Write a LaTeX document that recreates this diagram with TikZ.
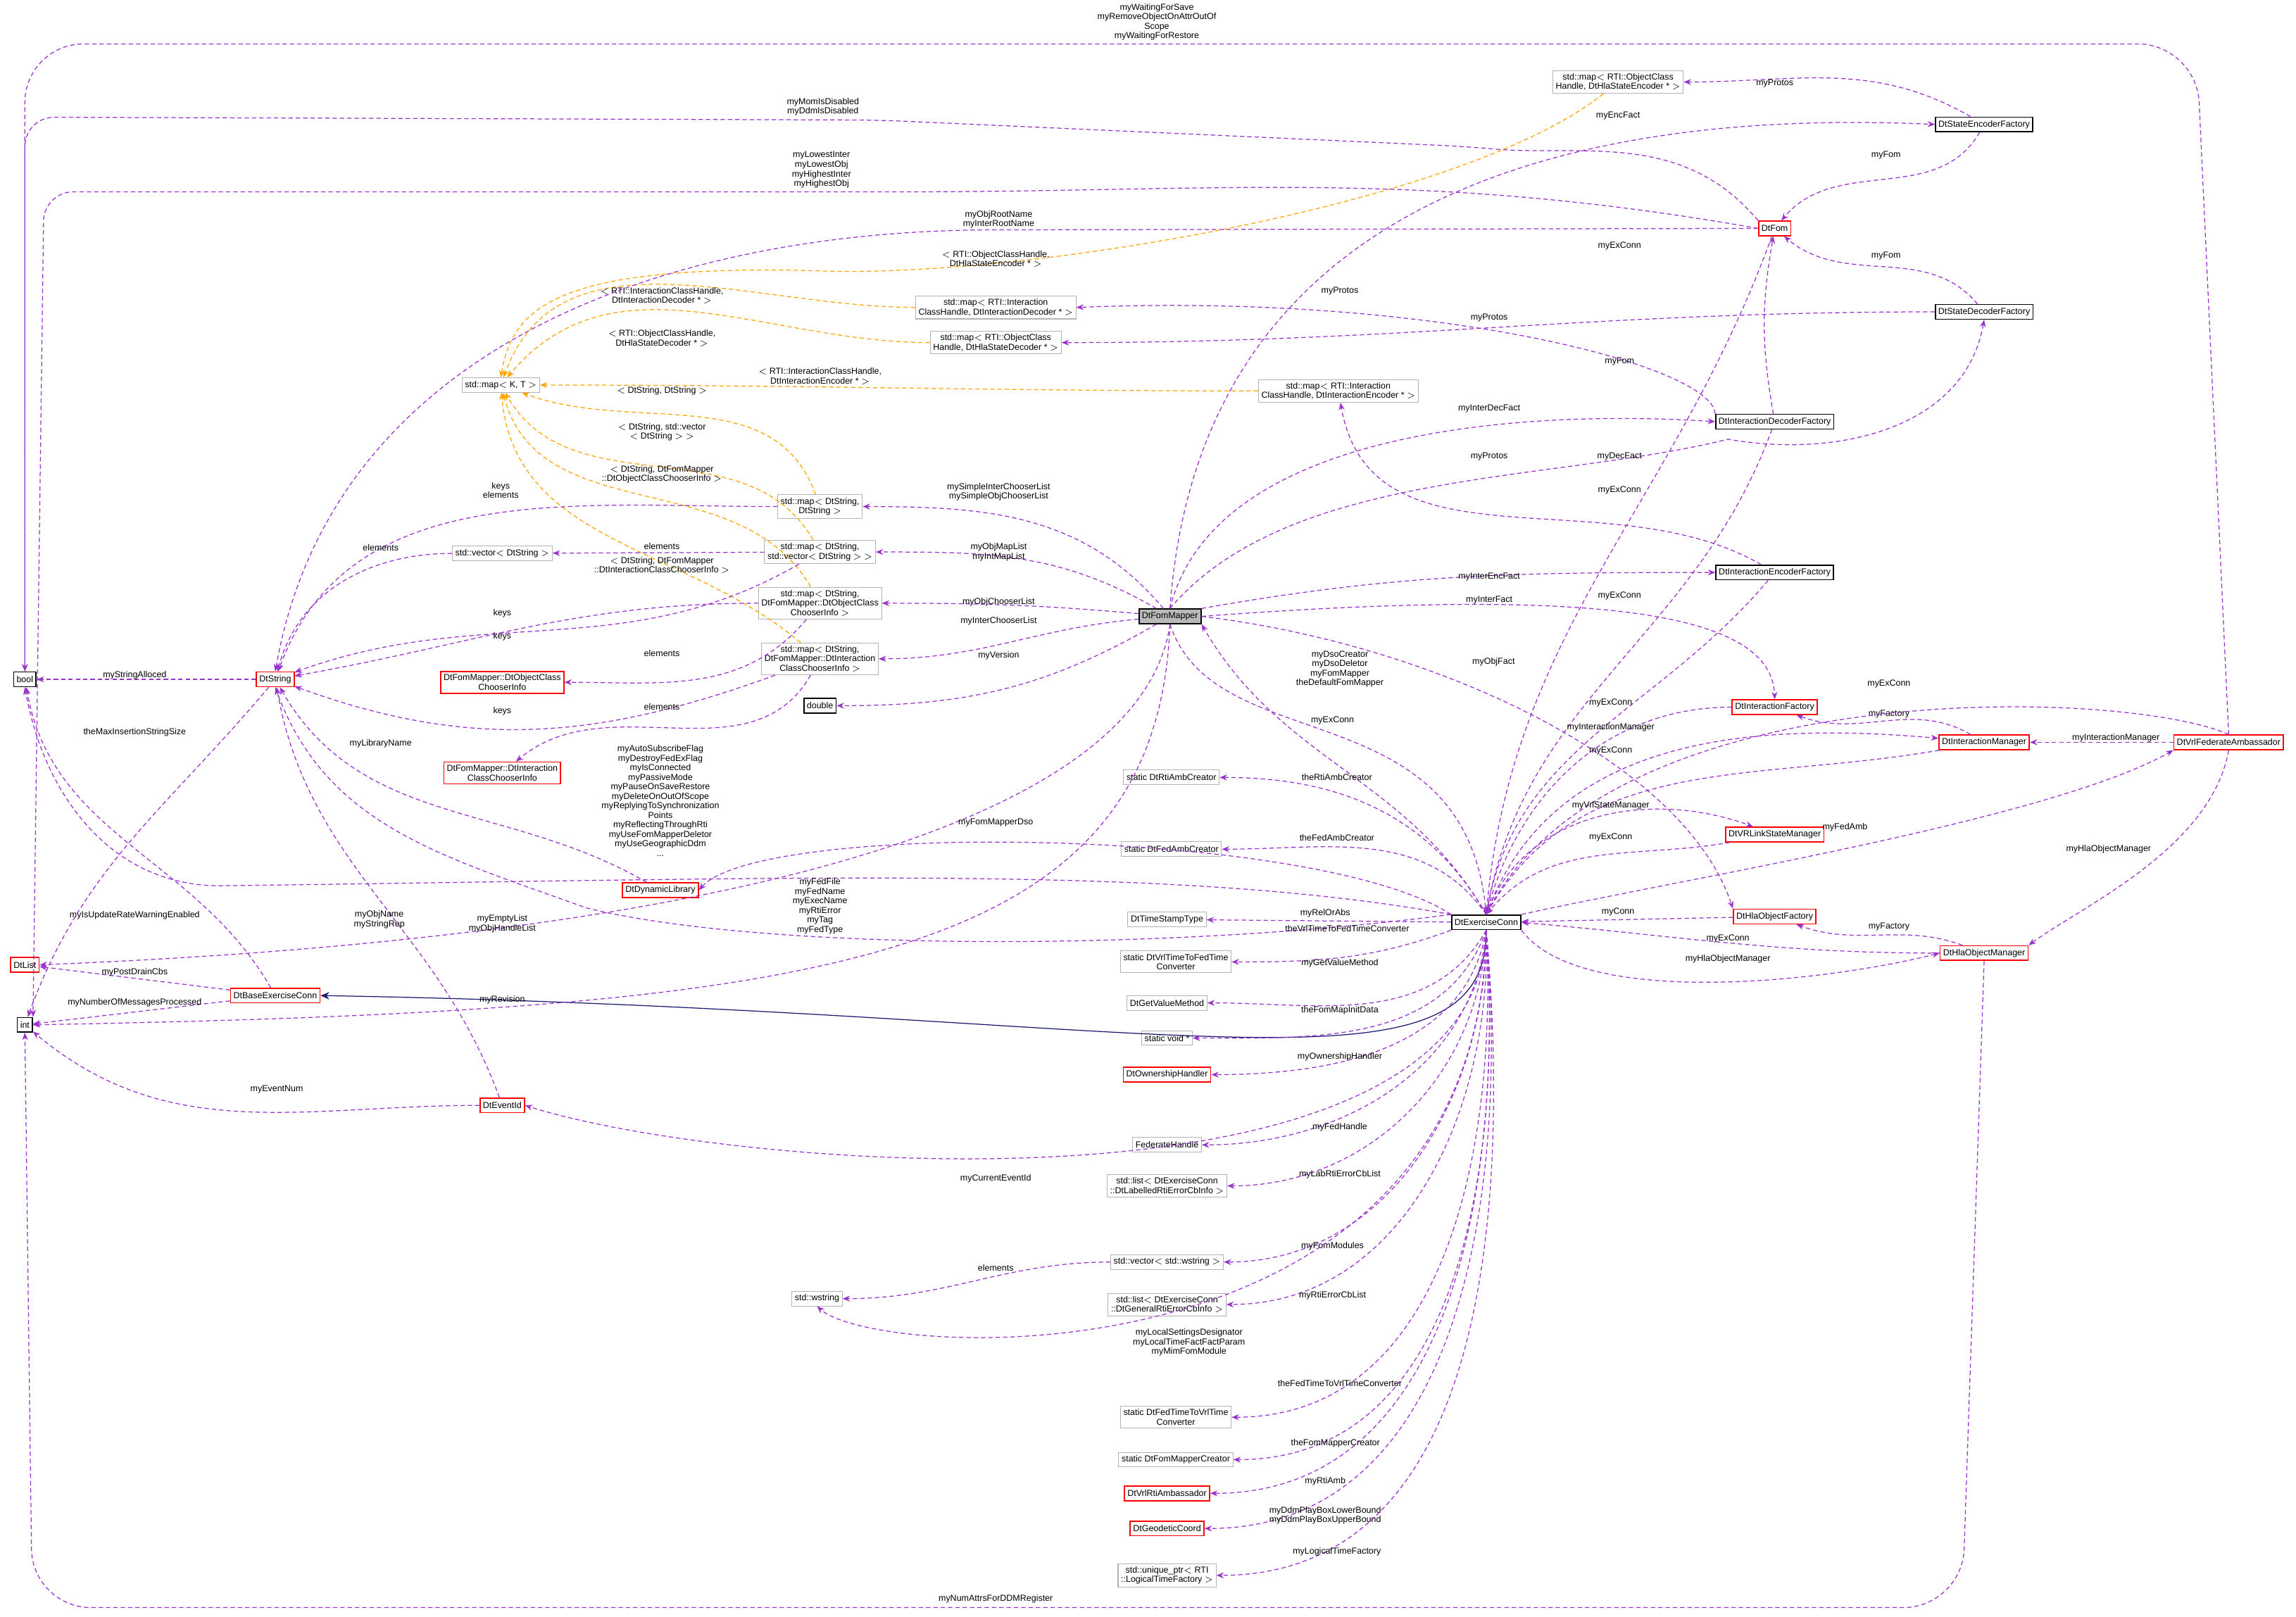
\documentclass[tikz,border=0pt]{standalone}
\usepackage{fontspec}
\setmainfont{Liberation Sans}
\usetikzlibrary{arrows.meta,positioning}
\definecolor{mem}{HTML}{9A32CD}
\definecolor{tpl}{HTML}{FFA500}
\definecolor{inh}{HTML}{191970}
\tikzset{
  cls/.style={draw=black,line width=0.8pt,rectangle,inner sep=2pt,minimum height=10pt,font=\fontsize{6}{6.5}\selectfont,fill=white,align=center},
  ext/.style={cls,draw=gray!60,line width=0.5pt},
  red/.style={cls,draw=red},
  lbl/.style={font=\fontsize{6}{6.5}\selectfont,align=center,inner sep=0pt},
  use/.style={mem,densely dashed,line width=0.6pt,-{Stealth[length=5pt,width=4pt]}},
  inst/.style={tpl,densely dashed,line width=0.6pt,-{Stealth[length=5pt,width=4pt]}},
  base/.style={inh,line width=0.6pt,-{Stealth[length=6pt,width=5pt,open,fill=inh]}}
}
\begin{document}
\begin{tikzpicture}[x=1pt,y=-1pt]
\useasboundingbox (0,0) rectangle (1568,1104);

% classes
\node (bool) at (17,464)[cls] {bool};
\node (int) at (17,700)[cls] {int};
\node (list) at (17,659)[red] {DtList};
\node (str) at (188,464)[red] {DtString};
\node (bec) at (188,680)[red] {DtBaseExerciseConn};
\node (evid) at (343,755)[red] {DtEventId};
\node (vstr) at (343,378)[ext] {std::vector$<$ DtString $>$};
\node (oci) at (343,466)[red] {DtFomMapper::DtObjectClass\\ChooserInfo};
\node (ici) at (343,528)[red] {DtFomMapper::DtInteraction\\ClassChooserInfo};
\node (dll) at (451,608)[red] {DtDynamicLibrary};
\node (mapkt) at (342,263)[ext] {std::map$<$ K, T $>$};
\node (mss) at (560,346)[ext] {std::map$<$ DtString,\\DtString $>$};
\node (msv) at (560,377)[ext] {std::map$<$ DtString,\\std::vector$<$ DtString $>$ $>$};
\node (mso) at (560,412)[ext] {std::map$<$ DtString,\\DtFomMapper::DtObjectClass\\ChooserInfo $>$};
\node (msi) at (560,450)[ext] {std::map$<$ DtString,\\DtFomMapper::DtInteraction\\ClassChooserInfo $>$};
\node (dbl) at (560,482)[cls] {double};
\node (fm) at (799,421)[cls,fill=gray!55] {DtFomMapper};
\node (menc) at (1105,56)[ext] {std::map$<$ RTI::ObjectClass\\Handle, DtHlaStateEncoder * $>$};
\node (midec) at (680,210)[ext] {std::map$<$ RTI::Interaction\\ClassHandle, DtInteractionDecoder * $>$};
\node (mdec) at (680,234)[ext] {std::map$<$ RTI::ObjectClass\\Handle, DtHlaStateDecoder * $>$};
\node (mienc) at (914,267)[ext] {std::map$<$ RTI::Interaction\\ClassHandle, DtInteractionEncoder * $>$};
\node (sef) at (1355,85)[cls] {DtStateEncoderFactory};
\node (fom) at (1212,156)[red] {DtFom};
\node (sdf) at (1355,213)[cls] {DtStateDecoderFactory};
\node (idf) at (1212,288)[cls] {DtInteractionDecoderFactory};
\node (ief) at (1212,391)[cls] {DtInteractionEncoderFactory};
\node (ifac) at (1212,483)[red] {DtInteractionFactory};
\node (imgr) at (1355,507)[red] {DtInteractionManager};
\node (vfa) at (1522,507)[red] {DtVrlFederateAmbassador};
\node (vsm) at (1212,570)[red] {DtVRLinkStateManager};
\node (hof) at (1212,626)[red] {DtHlaObjectFactory};
\node (hom) at (1355,651)[red] {DtHlaObjectManager};
\node (ec) at (1015,630)[cls] {DtExerciseConn};
\node (rac) at (800,531)[ext] {static DtRtiAmbCreator};
\node (fac) at (800,580)[ext] {static DtFedAmbCreator};
\node (tst) at (797,628)[ext] {DtTimeStampType};
\node (v2f) at (803,657)[ext] {static DtVrlTimeToFedTime\\Converter};
\node (gvm) at (797,685)[ext] {DtGetValueMethod};
\node (vptr) at (797,709)[ext] {static void *};
\node (own) at (797,734)[red] {DtOwnershipHandler};
\node (fh) at (797,782)[ext] {FederateHandle};
\node (llist) at (797,810)[ext] {std::list$<$ DtExerciseConn\\::DtLabelledRtiErrorCbInfo $>$};
\node (vws) at (797,862)[ext] {std::vector$<$ std::wstring $>$};
\node (ws) at (558,887)[ext] {std::wstring};
\node (glist) at (797,891)[ext] {std::list$<$ DtExerciseConn\\::DtGeneralRtiErrorCbInfo $>$};
\node (f2v) at (803,968)[ext] {static DtFedTimeToVrlTime\\Converter};
\node (fmc) at (803,997)[ext] {static DtFomMapperCreator};
\node (vra) at (797,1020)[red] {DtVrlRtiAmbassador};
\node (geo) at (797,1044)[red] {DtGeodeticCoord};
\node (ltf) at (797,1076)[ext] {std::unique\_ptr$<$ RTI\\::LogicalTimeFactory $>$};

% template instances
\draw[inst] (menc) .. controls (1000,140) and (700,190) .. (560,185) .. controls (380,180) and (350,210) .. (mapkt.north);
\draw[inst] (midec) to[out=180,in=70] (mapkt);
\draw[inst] (mdec) to[out=180,in=50] (mapkt);
\draw[inst] (mienc) to[out=180,in=0] (mapkt);
\draw[inst] (mss) to[out=110,in=-20] (mapkt);
\draw[inst] (msv) to[out=120,in=-60] (mapkt);
\draw[inst] (mso) to[out=120,in=-75] (mapkt);
\draw[inst] (msi) to[out=140,in=-85] (mapkt);
\node[lbl] at (680,177) {$<$ RTI::ObjectClassHandle,\\DtHlaStateEncoder * $>$};
\node[lbl] at (452,202) {$<$ RTI::InteractionClassHandle,\\DtInteractionDecoder * $>$};
\node[lbl] at (452,231) {$<$ RTI::ObjectClassHandle,\\DtHlaStateDecoder * $>$};
\node[lbl] at (560,257) {$<$ RTI::InteractionClassHandle,\\DtInteractionEncoder * $>$};
\node[lbl] at (452,267) {$<$ DtString, DtString $>$};
\node[lbl] at (452,295) {$<$ DtString, std::vector\\$<$ DtString $>$ $>$};
\node[lbl] at (452,324) {$<$ DtString, DtFomMapper\\::DtObjectClassChooserInfo $>$};
\node[lbl] at (452,386) {$<$ DtString, DtFomMapper\\::DtInteractionClassChooserInfo $>$};

% inheritance
\draw[base] (ec.south) .. controls (1015,760) and (800,690) .. (bec.east);

% members, left side
\draw[use] (str) -- (bool);
\node[lbl] at (92,461) {myStringAlloced};
\draw[use,rounded corners=20pt] (fom.north west) to[out=130,in=-5] (1000,100) -- (600,82) -- (17,80) -- (bool.north);
\node[lbl] at (562,73) {myMomIsDisabled\\myDdmIsDisabled};
\draw[use,rounded corners=40pt] (vfa.north) -- (1500,30) -- (17,30) -- (bool.north);
\node[lbl] at (790,15) {myWaitingForSave\\myRemoveObjectOnAttrOutOf\\Scope\\myWaitingForRestore};
\draw[use,rounded corners=20pt] (fom.west) to[out=170,in=0] (600,131) -- (30,131) -- (int.north east);
\node[lbl] at (561,116) {myLowestInter\\myLowestObj\\myHighestInter\\myHighestObj};
\draw[use] (fom.west) -- (680,157) to[out=180,in=80] (str.north);
\node[lbl] at (682,150) {myObjRootName\\myInterRootName};
\draw[use] (bec) to[out=120,in=-80] (bool);
\node[lbl] at (92,625) {myIsUpdateRateWarningEnabled};
\draw[use] (ec.north west) .. controls (800,590) and (550,600) .. (150,605) to[out=180,in=-80] (bool.south);
\node[lbl] at (451,547) {myAutoSubscribeFlag\\myDestroyFedExFlag\\myIsConnected\\myPassiveMode\\myPauseOnSaveRestore\\myDeleteOnOutOfScope\\myReplyingToSynchronization\\Points\\myReflectingThroughRti\\myUseFomMapperDeletor\\myUseGeographicDdm\\...};
\draw[use] (fm.south) .. controls (780,560) and (500,640) .. (list.east);
\node[lbl] at (343,631) {myEmptyList\\myObjHandleList};
\draw[use] (fm.south) .. controls (790,660) and (560,690) .. (int.east);
\node[lbl] at (343,683) {myRevision};
\draw[use] (str) to[out=-130,in=70] (int);
\node[lbl] at (92,500) {theMaxInsertionStringSize};
\draw[use] (bec) -- (list);
\node[lbl] at (92,664) {myPostDrainCbs};
\draw[use] (bec) -- (int);
\node[lbl] at (92,685) {myNumberOfMessagesProcessed};
\draw[use] (evid) to[out=180,in=-40] (int);
\node[lbl] at (189,744) {myEventNum};
\draw[use] (evid) to[out=110,in=-80] (str);
\node[lbl] at (259,628) {myObjName\\myStringRep};
\draw[use] (dll) to[out=150,in=-60] (str);
\node[lbl] at (260,508) {myLibraryName};
\draw[use] (ec.north west) .. controls (800,650) and (520,650) .. (400,620) to[out=160,in=-70] (str.south);
\node[lbl] at (560,619) {myFedFile\\myFedName\\myExecName\\myRtiError\\myTag\\myFedType};
\draw[use] (mss) to[out=180,in=70] (str);
\node[lbl] at (342,335) {keys\\elements};
\draw[use] (vstr) to[out=180,in=75] (str);
\node[lbl] at (260,374) {elements};
\draw[use] (msv) to[out=-150,in=20] (str);
\node[lbl] at (343,419) {keys};
\draw[use] (msv) -- (vstr);
\node[lbl] at (452,373) {elements};
\draw[use] (mso) to[out=180,in=10] (str);
\node[lbl] at (343,435) {keys};
\draw[use] (mso) to[out=-130,in=0] (oci);
\node[lbl] at (452,446) {elements};
\draw[use] (msi) to[out=-160,in=-20] (str);
\node[lbl] at (343,486) {keys};
\draw[use] (msi) to[out=-120,in=40] (ici);
\node[lbl] at (452,483) {elements};

% members of DtFomMapper
\draw[use] (fm) to[out=130,in=0] (mss);
\node[lbl] at (682,336) {mySimpleInterChooserList\\mySimpleObjChooserList};
\draw[use] (fm) to[out=150,in=0] (msv);
\node[lbl] at (682,377) {myObjMapList\\myIntMapList};
\draw[use] (fm) to[out=175,in=0] (mso);
\node[lbl] at (682,411) {myObjChooserList};
\draw[use] (fm) to[out=185,in=0] (msi);
\node[lbl] at (682,424) {myInterChooserList};
\draw[use] (fm) to[out=-150,in=0] (dbl);
\node[lbl] at (682,448) {myVersion};
\draw[use] (fm.north) .. controls (820,120) and (1100,75) .. (sef.west);
\node[lbl] at (1105,79) {myEncFact};
\draw[use] (fm.north) .. controls (830,290) and (1050,280) .. (idf.west);
\node[lbl] at (1017,279) {myInterDecFact};
\draw[use] (fm.north) .. controls (880,320) and (1060,330) .. (1180,300) to[out=-10,in=-100] (sdf.south);
\node[lbl] at (1106,312) {myDecFact};
\draw[use] (fm.north east) to[out=10,in=180] (ief);
\node[lbl] at (1017,394) {myInterEncFact};
\draw[use] (fm.east) .. controls (1100,400) and (1210,420) .. (ifac.north);
\node[lbl] at (1017,410) {myInterFact};
\draw[use] (fm.east) .. controls (980,440) and (1150,520) .. (hof.north west);
\node[lbl] at (1020,452) {myObjFact};
\draw[use] (ec.north) to[out=120,in=-60] (fm.south east);
\node[lbl] at (915,457) {myDsoCreator\\myDsoDeletor\\myFomMapper\\theDefaultFomMapper};
\draw[use] (fm.south) .. controls (830,520) and (1000,470) .. (ec.north);
\node[lbl] at (910,492) {myExConn};
\draw[use] (ec.north west) .. controls (900,565) and (520,560) .. (dll.east);
\node[lbl] at (680,562) {myFomMapperDso};

% factories and fom
\draw[use] (sef) to[out=150,in=0] (menc);
\node[lbl] at (1212,57) {myProtos};
\draw[use] (sef) to[out=-120,in=50] (fom);
\node[lbl] at (1288,106) {myFom};
\draw[use] (sdf) to[out=130,in=-40] (fom);
\node[lbl] at (1288,175) {myFom};
\draw[use] (sdf) to[out=180,in=0] (mdec);
\node[lbl] at (1017,217) {myProtos};
\draw[use] (idf.north west) .. controls (1170,250) and (980,200) .. (midec.east);
\node[lbl] at (915,199) {myProtos};
\draw[use] (idf) to[out=100,in=-100] (fom);
\node[lbl] at (1106,247) {myFom};
\draw[use] (ief) to[out=150,in=-80] (mienc);
\node[lbl] at (1017,312) {myProtos};
\draw[use] (idf) to[out=-110,in=80] (ec.north);
\node[lbl] at (1106,335) {myExConn};
\draw[use] (ief) to[out=-130,in=80] (ec.north);
\node[lbl] at (1106,407) {myExConn};
\draw[use] (fom) to[out=-110,in=85] (ec.north);
\node[lbl] at (1106,168) {myExConn};
\draw[use] (ifac) to[out=180,in=75] (ec.north);
\node[lbl] at (1100,480) {myExConn};
\draw[use] (imgr) to[out=150,in=-20] (ifac);
\node[lbl] at (1290,488) {myFactory};
\draw[use] (imgr) to[out=-170,in=60] (ec.north);
\node[lbl] at (1100,513) {myExConn};
\draw[use] (ec.north) to[out=70,in=175] (imgr);
\node[lbl] at (1100,497) {myInteractionManager};
\draw[use] (vfa) -- (imgr);
\node[lbl] at (1445,504) {myInteractionManager};
\draw[use] (vfa.north) .. controls (1450,470) and (1100,460) .. (ec.north);
\node[lbl] at (1290,467) {myExConn};
\draw[use] (ec.north east) .. controls (1150,600) and (1400,560) .. (vfa.south west);
\node[lbl] at (1260,565) {myFedAmb};
\draw[use] (ec.north) to[out=70,in=160] (vsm);
\node[lbl] at (1100,550) {myVrlStateManager};
\draw[use] (vsm) to[out=-170,in=50] (ec.north);
\node[lbl] at (1100,572) {myExConn};
\draw[use] (hof) -- (ec);
\node[lbl] at (1105,623) {myConn};
\draw[use] (hom) to[out=160,in=-20] (hof);
\node[lbl] at (1290,633) {myFactory};
\draw[use] (hom) to[out=180,in=-5] (ec.east);
\node[lbl] at (1180,641) {myExConn};
\draw[use] (ec.south east) .. controls (1080,690) and (1250,670) .. (hom.west);
\node[lbl] at (1180,655) {myHlaObjectManager};
\draw[use] (vfa.south) .. controls (1510,580) and (1420,620) .. (hom.north east);
\node[lbl] at (1440,580) {myHlaObjectManager};
\draw[use,rounded corners=40pt] (hom.south) -- (1340,1098) -- (22,1098) -- (int.south);
\node[lbl] at (680,1092) {myNumAttrsForDDMRegister};

% members of DtExerciseConn on the left
\draw[use] (ec.north) to[out=120,in=0] (rac);
\node[lbl] at (913,531) {theRtiAmbCreator};
\draw[use] (ec.north) to[out=125,in=0] (fac);
\node[lbl] at (913,572) {theFedAmbCreator};
\draw[use] (ec) -- (tst);
\node[lbl] at (905,624) {myRelOrAbs};
\draw[use] (ec.south west) to[out=-160,in=0] (v2f);
\node[lbl] at (920,634) {theVrlTimeToFedTimeConverter};
\draw[use] (ec.south) to[out=-120,in=0] (gvm);
\node[lbl] at (915,658) {myGetValueMethod};
\draw[use] (ec.south) to[out=-110,in=0] (vptr);
\node[lbl] at (915,690) {theFomMapInitData};
\draw[use] (ec.south) to[out=-100,in=0] (own);
\node[lbl] at (915,722) {myOwnershipHandler};
\draw[use] (ec.south) to[out=-95,in=0] (fh);
\node[lbl] at (915,770) {myFedHandle};
\draw[use] (ec.south) to[out=-92,in=0] (llist);
\node[lbl] at (915,802) {myLabRtiErrorCbList};
\draw[use] (ec.south) .. controls (1010,840) and (500,800) .. (evid.east);
\node[lbl] at (680,805) {myCurrentEventId};
\draw[use] (ec.south) to[out=-90,in=0] (vws);
\node[lbl] at (910,851) {myFomModules};
\draw[use] (vws) to[out=180,in=0] (ws);
\node[lbl] at (680,866) {elements};
\draw[use] (ec.south) to[out=-88,in=0] (glist);
\node[lbl] at (910,885) {myRtiErrorCbList};
\draw[use] (ec.south) .. controls (1010,950) and (600,930) .. (ws.south);
\node[lbl] at (812,917) {myLocalSettingsDesignator\\myLocalTimeFactFactParam\\myMimFomModule};
\draw[use] (ec.south) to[out=-87,in=0] (f2v);
\node[lbl] at (915,945) {theFedTimeToVrlTimeConverter};
\draw[use] (ec.south) to[out=-86,in=0] (fmc);
\node[lbl] at (912,986) {theFomMapperCreator};
\draw[use] (ec.south) to[out=-86,in=0] (vra);
\node[lbl] at (905,1012) {myRtiAmb};
\draw[use] (ec.south) to[out=-85,in=0] (geo);
\node[lbl] at (905,1035) {myDdmPlayBoxLowerBound\\myDdmPlayBoxUpperBound};
\draw[use] (ec.south) to[out=-85,in=0] (ltf);
\node[lbl] at (913,1060) {myLogicalTimeFactory};
\end{tikzpicture}
\end{document}
